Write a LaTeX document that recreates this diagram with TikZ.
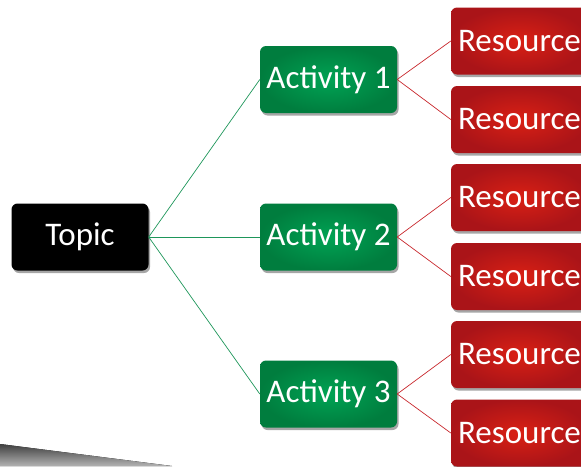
\documentclass[tikz,border=0pt]{standalone}
\usepackage{fontspec}
\setmainfont{Carlito}
\usetikzlibrary{shadows}
\definecolor{actin}{RGB}{0,163,84}
\definecolor{actout}{RGB}{0,125,62}
\definecolor{resin}{RGB}{218,32,20}
\definecolor{resout}{RGB}{170,20,24}
\definecolor{greenline}{RGB}{30,150,90}
\definecolor{redline}{RGB}{200,40,45}
\tikzset{
  box/.style={rounded corners=6pt, minimum width=137pt, minimum height=67pt, inner sep=0pt,
    text=white, font=\fontsize{33}{39}\selectfont,
    drop shadow={shadow xshift=1.5pt, shadow yshift=-2.5pt, opacity=0.35, fill=black}},
  topicbox/.style={box, fill=black},
  actbox/.style={box, shading=radial, inner color=actin, outer color=actout},
  resbox/.style={box, shading=radial, inner color=resin, outer color=resout},
  gline/.style={draw=greenline, line width=0.7pt},
  rline/.style={draw=redline, line width=0.7pt}
}
\begin{document}
\begin{tikzpicture}[x=1pt,y=-1pt]
\useasboundingbox (0,0) rectangle (581,466);
\fill[top color=black!75, bottom color=black!30] (0,444) -- (172,466) -- (0,466) -- cycle;
\begin{scope}
\clip (0,0) rectangle (581,466);
\node[topicbox] (topic) at (80,237) {Topic};
\node[actbox] (a1) at (328.5,79.5) {Activity 1};
\node[actbox] (a2) at (328.5,237) {Activity 2};
\node[actbox] (a3) at (328.5,394) {Activity 3};
\node[resbox] (r1) at (519.5,41) {Resource};
\node[resbox] (r2) at (519.5,119.5) {Resource};
\node[resbox] (r3) at (519.5,197.5) {Resource};
\node[resbox] (r4) at (519.5,276.5) {Resource};
\node[resbox] (r5) at (519.5,354.5) {Resource};
\node[resbox] (r6) at (519.5,433) {Resource};
\end{scope}
\draw[gline] (topic.east) -- (a1.west);
\draw[gline] (topic.east) -- (a2.west);
\draw[gline] (topic.east) -- (a3.west);
\draw[rline] (a1.east) -- (r1.west);
\draw[rline] (a1.east) -- (r2.west);
\draw[rline] (a2.east) -- (r3.west);
\draw[rline] (a2.east) -- (r4.west);
\draw[rline] (a3.east) -- (r5.west);
\draw[rline] (a3.east) -- (r6.west);
\end{tikzpicture}
\end{document}
